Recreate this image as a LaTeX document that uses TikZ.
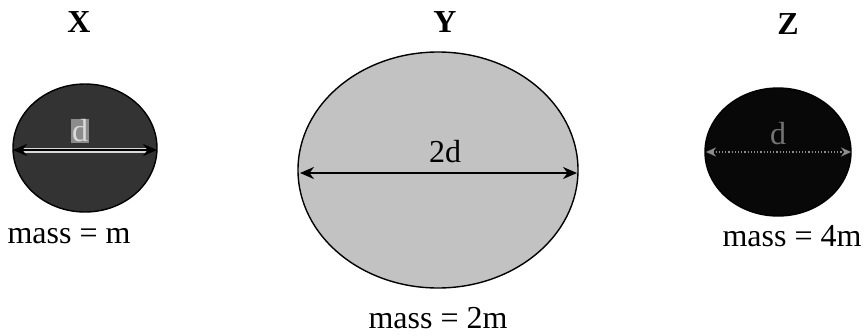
\documentclass[tikz,border=0pt]{standalone}
\usepackage{fontspec}
\setmainfont{Liberation Serif}
\usetikzlibrary{arrows.meta,calc}
\begin{document}
\begin{tikzpicture}[x=1pt,y=-1pt,
  lbl/.style={font=\fontsize{32}{36}\selectfont\bfseries, inner sep=0pt},
  masslbl/.style={font=\fontsize{32}{36}\selectfont, inner sep=0pt},
  dimlbl/.style={font=\fontsize{32}{36}\selectfont, inner sep=1pt},
  ball/.style={draw=black, line width=1.4pt},
  dimarrow/.style={line width=2pt, {Stealth[length=14pt,width=12pt]}-{Stealth[length=14pt,width=12pt]}}
]
\useasboundingbox (0,0) rectangle (866,335);
% balls
\draw[ball, fill=black!80] (85,148) ellipse [x radius=72, y radius=64];
\draw[ball, fill=black!24] (438,170) ellipse [x radius=140, y radius=118];
\draw[ball, fill=black!97] (778,152) ellipse [x radius=73, y radius=64];
% anchor coordinates
\coordinate (xl) at (13,150);  \coordinate (xr) at (157,150);
\coordinate (yl) at (300,173); \coordinate (yr) at (577,173);
\coordinate (zl) at (706,152); \coordinate (zr) at (851,152);
% X arrow
\draw[line width=5pt, white!85!black] ($(xl)+(10,0)$) -- ($(xr)+(-10,0)$);
\draw[dimarrow, black] (xl) -- (xr);
\node[dimlbl, fill=black!45, text=white!85!black] (dx) at (80,131) {d};
% Y arrow
\draw[dimarrow] (yl) -- (yr);
\node[dimlbl] (dy) at (445,152) {2d};
% Z arrow
\draw[line width=1.2pt, black!45, dotted, {Stealth[length=10pt,width=9pt]}-{Stealth[length=10pt,width=9pt]}] (zl) -- (zr);
\node[dimlbl, text=black!55] (dz) at (778,134) {d};
% labels
\node[lbl] (X) at (79,22) {X};
\node[lbl] (Y) at (445,22) {Y};
\node[lbl] (Z) at (788,24) {Z};
\node[masslbl] (mx) at (69,236) {mass = m};
\node[masslbl] (my) at (438,318) {mass = 2m};
\node[masslbl] (mz) at (792,236) {mass = 4m};
\end{tikzpicture}
\end{document}
